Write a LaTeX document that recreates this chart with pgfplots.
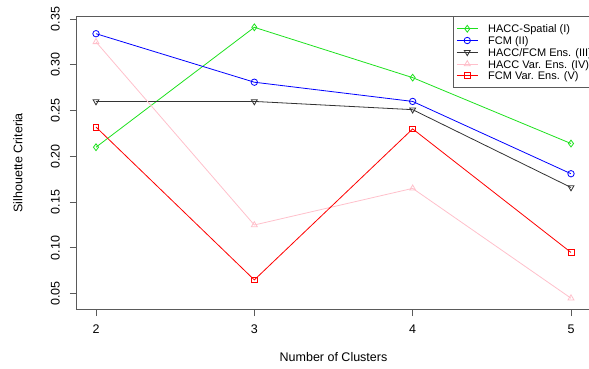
\documentclass[border=0pt]{standalone}
\usepackage{fontspec}
\setmainfont{Liberation Sans}
\usepackage{pgfplots}
\pgfplotsset{compat=1.18}
\definecolor{rgreen}{RGB}{30,225,30}
\definecolor{rblue}{RGB}{0,0,255}
\definecolor{rpink}{RGB}{255,192,203}
\definecolor{rred}{RGB}{255,0,0}
\definecolor{axgray}{RGB}{90,90,90}
\begin{document}
\begin{tikzpicture}
\begin{axis}[
  scale only axis,
  width=513pt, height=292.5pt,
  xmin=1.88, xmax=5.12,
  ymin=0.0332, ymax=0.3528,
  xtick={2,3,4,5},
  ytick={0.05,0.10,0.15,0.20,0.25,0.30,0.35},
  /pgf/number format/assume math mode=true,
  yticklabel={\pgfmathprintnumber[fixed,fixed zerofill,precision=2]{\tick}},
  tick align=outside,
  major tick length=7pt,
  xtick pos=bottom, ytick pos=left,
  axis line style={axgray, line width=1pt},
  every tick/.style={axgray, line width=0.8pt},
  tick label style={font=\fontsize{12.5}{12.5}\selectfont, text=black},
  yticklabel style={rotate=90, anchor=south, inner sep=0pt},
  xticklabel style={anchor=north, inner sep=0pt},
  xticklabel shift=9pt,
  yticklabel shift=10pt,
  xlabel={Number of Clusters},
  ylabel={Silhouette Criteria},
  label style={font=\fontsize{12.5}{12.5}\selectfont},
  xlabel style={at={(axis description cs:0.5,-0.164)}, anchor=center, inner sep=0pt},
  ylabel style={at={(axis description cs:-0.115,0.5)}, anchor=center, rotate=0, inner sep=0pt},
  legend style={
    at={(axis description cs:0.7329,1)}, anchor=north west,
    draw=axgray, line width=0.8pt,
    font=\fontsize{11}{11}\selectfont,
    inner xsep=3pt, inner ysep=6pt,
    row sep=0pt, column sep=10pt,
    nodes={inner sep=0pt, text height=10pt, text depth=1.75pt},
  },
  legend cell align=left,
  legend image code/.code={\draw[#1, mark repeat=2, mark phase=2, line width=0.8pt] plot coordinates {(0pt,0pt)(10.5pt,0pt)(21pt,0pt)};},
  every axis plot/.append style={line width=0.8pt, mark size=3.4pt},
]
\addplot[rgreen, mark=diamond, mark options={solid}] coordinates {(2,0.210) (3,0.341) (4,0.286) (5,0.214)};
\addlegendentry{HACC-Spatial (I)}
\addplot[rblue, mark=o, mark options={solid}, mark size=3.2pt] coordinates {(2,0.334) (3,0.281) (4,0.260) (5,0.181)};
\addlegendentry{FCM (II)}
\addplot[black!80, mark=triangle, mark options={solid, rotate=180}] coordinates {(2,0.260) (3,0.260) (4,0.251) (5,0.166)};
\addlegendentry{HACC/FCM Ens. (III)}
\addplot[rpink, mark=triangle, mark options={solid}] coordinates {(2,0.325) (3,0.125) (4,0.165) (5,0.045)};
\addlegendentry{HACC Var. Ens. (IV)}
\addplot[rred, mark=square, mark options={solid}, mark size=2.9pt] coordinates {(2,0.232) (3,0.065) (4,0.230) (5,0.095)};
\addlegendentry{FCM Var. Ens. (V)}
\end{axis}
\pgfresetboundingbox
\useasboundingbox (-77pt,-60pt) rectangle (512pt,309pt);
\end{tikzpicture}
\end{document}
